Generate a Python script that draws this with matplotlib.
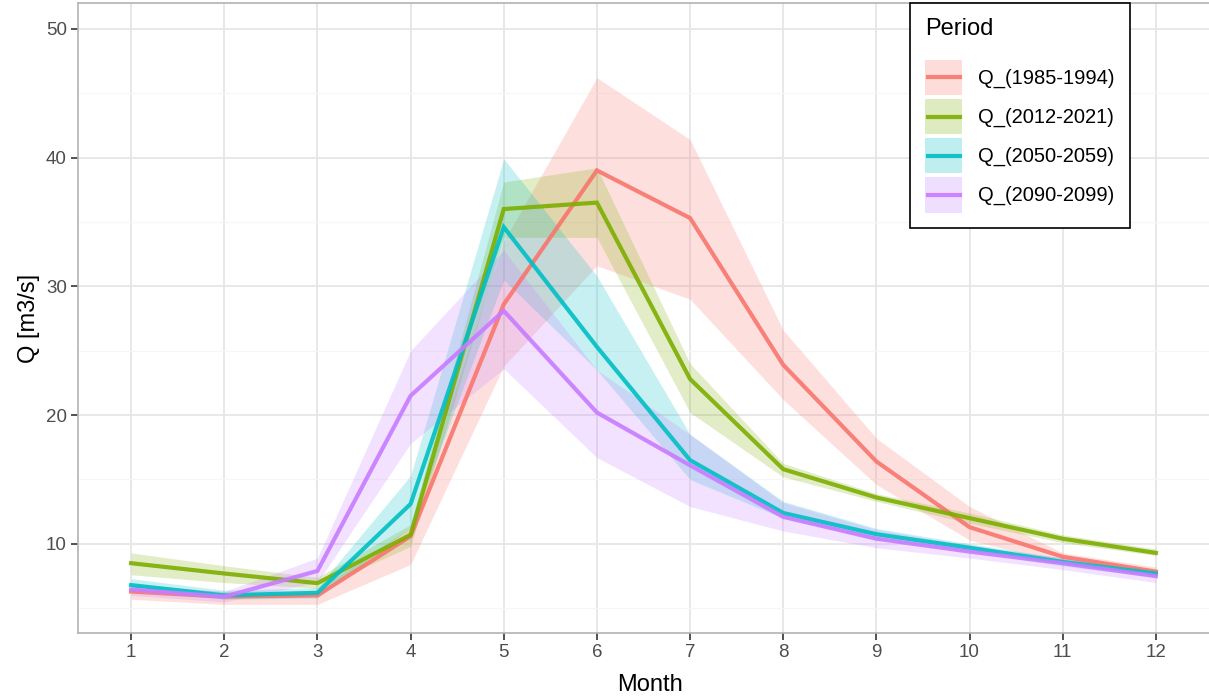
import numpy as np
import matplotlib
matplotlib.use('Agg')
import matplotlib.pyplot as plt
from matplotlib.patches import Rectangle
from matplotlib.lines import Line2D
from matplotlib.legend_handler import HandlerBase

plt.rcParams['font.family'] = ['Liberation Sans', 'DejaVu Sans']

# Data
months = [1, 2, 3, 4, 5, 6, 7, 8, 9, 10, 11, 12]
periods = ['Q_(1985-1994)', 'Q_(2012-2021)', 'Q_(2050-2059)', 'Q_(2090-2099)']
colors = ['#F8766D', '#7CAE00', '#00BFC4', '#C77CFF']

q1985 = [6.3, 5.9, 6.0, 10.6, 28.6, 39.0, 35.3, 23.9, 16.4, 11.3, 9.0, 7.85]
lo1985 = [5.7, 5.3, 5.3, 8.4, 23.8, 31.6, 29.0, 21.2, 14.6, 10.3, 8.5, 7.5]
hi1985 = [6.8, 6.3, 6.4, 11.3, 33.5, 46.2, 41.4, 26.6, 18.2, 12.9, 9.3, 8.2]

q2012 = [8.5, 7.7, 6.95, 10.7, 36.0, 36.5, 22.8, 15.8, 13.6, 12.0, 10.4, 9.3]
lo2012 = [7.6, 7.0, 6.55, 9.8, 33.8, 33.8, 20.2, 15.2, 13.3, 11.6, 10.1, 9.1]
hi2012 = [9.3, 8.3, 7.4, 11.5, 38.1, 39.2, 24.0, 16.25, 13.9, 12.4, 10.7, 9.6]

q2050 = [6.8, 6.0, 6.2, 13.1, 34.6, 25.3, 16.5, 12.4, 10.75, 9.7, 8.6, 7.7]
lo2050 = [6.4, 5.7, 5.8, 11.3, 30.5, 23.5, 15.0, 12.0, 10.4, 9.4, 8.3, 7.4]
hi2050 = [7.3, 6.4, 6.6, 15.3, 39.9, 30.8, 18.5, 13.3, 11.2, 10.0, 8.9, 8.0]

q2090 = [6.45, 5.9, 7.9, 21.5, 28.1, 20.2, 16.1, 12.1, 10.4, 9.4, 8.5, 7.5]
lo2090 = [6.0, 5.5, 7.0, 17.8, 23.6, 16.7, 12.9, 11.0, 9.7, 8.9, 8.0, 7.0]
hi2090 = [6.9, 6.3, 8.9, 25.0, 32.8, 23.5, 18.5, 13.2, 11.1, 9.9, 8.9, 7.9]

means = [q1985, q2012, q2050, q2090]
lows = [lo1985, lo2012, lo2050, lo2090]
highs = [hi1985, hi2012, hi2050, hi2090]


class RibbonKey(HandlerBase):
    # ggplot style key: shaded square with the line through its middle
    def create_artists(self, legend, orig_handle, xdescent, ydescent,
                       width, height, fontsize, trans):
        c = orig_handle.get_color()
        x0, y0 = -xdescent, -ydescent
        rect = Rectangle((x0, y0), width, height, facecolor=c, alpha=0.25,
                         linewidth=0, transform=trans)
        ym = y0 + height / 2
        line = Line2D([x0 + 2, x0 + width - 2], [ym, ym], color=c, linewidth=3,
                      alpha=0.9, transform=trans)
        return [rect, line]


fig = plt.figure(figsize=(12.09, 6.96), dpi=100)
ax = fig.add_axes([78 / 1209, 1 - 633 / 696, 1 - 78 / 1209 + 0.01, (633 - 3) / 696])

# grid like ggplot theme_light
ax.set_yticks([5, 15, 25, 35, 45], minor=True)
ax.grid(which='major', color='#E6E6E6', linewidth=1.3)
ax.grid(which='minor', axis='y', color='#F6F6F6', linewidth=0.8)
ax.set_axisbelow(True)

# ribbons first, then lines
for c, lo, hi in zip(colors, lows, highs):
    ax.fill_between(months, lo, hi, color=c, alpha=0.22, linewidth=0)
lines = []
for c, m in zip(colors, means):
    ln, = ax.plot(months, m, color=c, linewidth=3, alpha=0.9, solid_joinstyle='miter')
    lines.append(ln)

ax.set_xlim(0.43, 12.7)
ax.set_ylim(3.08, 52.0)
ax.set_xticks(months)
ax.set_yticks([10, 20, 30, 40, 50])

for s in ax.spines.values():
    s.set_color('#B3B3B3')
    s.set_linewidth(1.2)
ax.tick_params(axis='both', which='major', length=5, width=1.2, color='#333333',
               labelsize=13.5, labelcolor='#4D4D4D', pad=3)
ax.tick_params(axis='y', which='minor', length=0)

ax.set_xlabel('Month', fontsize=17, color='black', labelpad=9)
ax.set_ylabel('Q [m3/s]', fontsize=17, color='black', labelpad=4)

leg = ax.legend(lines, periods, title='Period', loc='upper left',
                bbox_to_anchor=(910 / 1209, 1 - 3 / 696), bbox_transform=fig.transFigure,
                handler_map={Line2D: RibbonKey()},
                fancybox=False, framealpha=1, edgecolor='black', fontsize=14.5,
                title_fontsize=17, handlelength=1.85, handleheight=2.35,
                handletextpad=0.78, labelspacing=0.17, borderpad=0.75, borderaxespad=0)
leg._legend_box.align = 'left'
leg._legend_box.sep = 14
leg.get_frame().set_linewidth(1.2)

fig.savefig('out.png', dpi=100)
